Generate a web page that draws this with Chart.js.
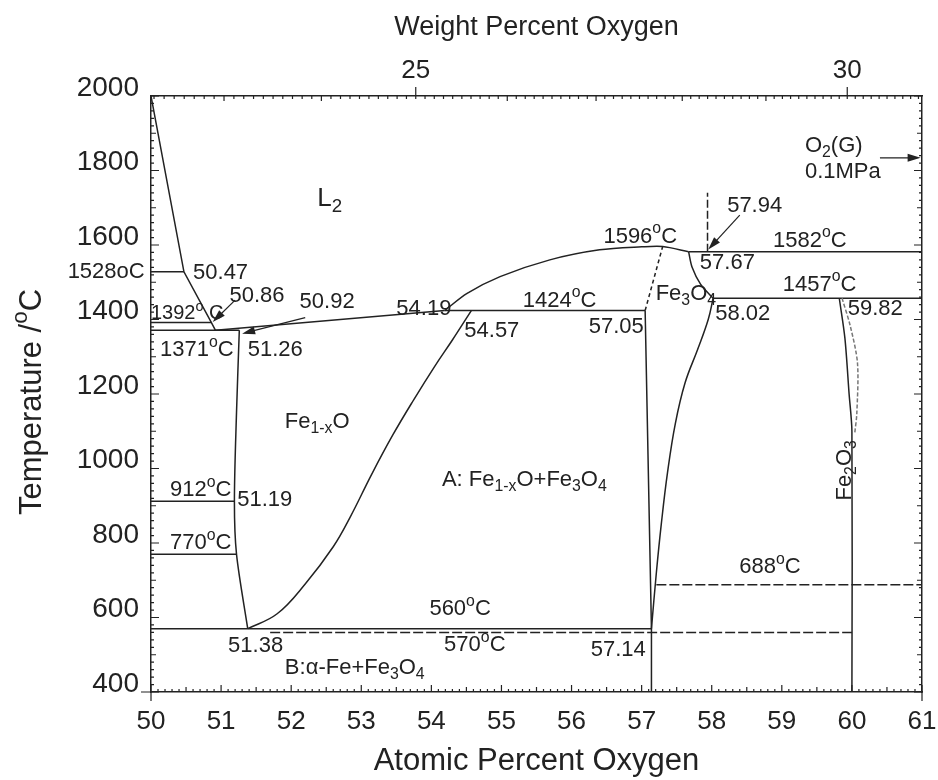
<!DOCTYPE html>
<html lang="en">
<head>
    <meta charset="UTF-8">
    <title>Fe-O phase diagram</title>
    <script src="https://cdn.jsdelivr.net/npm/chart.js"></script>
    <style>
        body { margin: 0; background: #fff; }
        .wrap { width: 938px; height: 780px; }
    </style>
</head>
<body>
    <div class="wrap"><canvas id="feo"></canvas></div>

    <script>
        // phase boundaries, [atomic % O, temperature °C]
        const liquidusFe = [[50, 2000], [50.47, 1528], [50.86, 1392], [50.92, 1371]];
        const liquidusWustite = [[50.92, 1371], [54.19, 1424]];
        const wustiteFeSide = [[51.26, 1371], [51.22, 1150], [51.19, 912], [51.22, 770], [51.38, 570]];
        const wustiteOSide = [[51.38, 570], [51.8, 610], [52.2, 690], [52.6, 790], [52.84, 869], [53.15, 985],
                              [53.45, 1090], [53.75, 1185], [54.05, 1275], [54.3, 1345], [54.57, 1424]];
        const liquidusMagnetite = [[54.19, 1424], [54.51, 1470], [54.98, 1515], [55.69, 1560], [56.4, 1587],
                                   [57.0, 1595], [57.3, 1596], [57.67, 1582]];
        const magnetiteFeSide = [[57.05, 1424], [57.14, 570], [57.14, 400]];
        const magnetiteFeSideHigh = [[57.05, 1424], [57.3, 1596]];
        const magnetiteOSideHigh = [[57.67, 1582], [57.72, 1540], [57.84, 1495], [58.02, 1457]];
        const magnetiteOSide = [[58.02, 1457], [57.95, 1400], [57.8, 1320], [57.62, 1230], [57.48, 1120],
                                [57.37, 990], [57.28, 850], [57.21, 720], [57.14, 570]];
        const hematiteSolid = [[59.82, 1457], [59.9, 1350], [59.96, 1200], [60, 1100], [60, 400]];
        const hematiteDashed = [[59.86, 1457], [59.98, 1380], [60.08, 1282], [60.07, 1148], [60.04, 1094]];
        const gasLimit = [[57.94, 1582], [57.94, 1740]];

        // isotherms: temperature, start and end composition
        const isoTemp = [1528, 1392, 1371, 912, 770, 570, 1424, 1582, 1457];
        const isoFrom = [50, 50, 50, 50, 50, 50, 54.19, 57.67, 58.02];
        const isoTo = [50.47, 50.86, 51.26, 51.19, 51.22, 57.14, 57.05, 61, 61];
        const dashTemp = [560, 688];
        const dashFrom = [51.7, 57.21];
        const dashTo = [60, 61];

        // axis ticks
        const tempTicks = [400, 600, 800, 1000, 1200, 1400, 1600, 1800, 2000];
        const wtLabels = [25, 30];

        // weight % <-> atomic % oxygen in Fe-O
        const atFromWt = w => (w / 16) / (w / 16 + (100 - w) / 55.845) * 100;
        const wtFromAt = a => 16 * a / (16 * a + 55.845 * (100 - a)) * 100;

        // text on the diagram: text, at% O, °C, align, size
        const notes = [
            ['L_{2}', 52.55, 1724, 'center', 26],
            ['1528oC', 49.91, 1528, 'right', 22],
            ['50.47', 50.6, 1524, 'left', 22],
            ['50.86', 51.12, 1462, 'left', 22],
            ['50.92', 52.12, 1448, 'left', 22],
            ['1392^{o} C', 50.0, 1416, 'left', 20],
            ['1371^{o}C', 50.13, 1317, 'left', 22],
            ['51.26', 51.38, 1317, 'left', 22],
            ['54.19', 53.5, 1429, 'left', 22],
            ['1424^{o}C', 55.83, 1451, 'center', 22],
            ['54.57', 54.47, 1370, 'left', 22],
            ['57.05', 57.03, 1379, 'right', 22],
            ['1596^{o}C', 56.98, 1622, 'center', 22],
            ['Fe_{3}O_{4}', 57.2, 1468, 'left', 22],
            ['57.67', 57.83, 1553, 'left', 22],
            ['57.94', 58.22, 1705, 'left', 22],
            ['1582^{o}C', 59.4, 1612, 'center', 22],
            ['1457^{o}C', 59.54, 1494, 'center', 22],
            ['58.02', 58.05, 1416, 'left', 22],
            ['59.82', 59.94, 1429, 'left', 22],
            ['O_{2}(G)', 59.33, 1866, 'left', 22],
            ['0.1MPa', 59.33, 1797, 'left', 22],
            ['Fe_{1-x}O', 51.91, 1124, 'left', 22],
            ['A: Fe_{1-x}O+Fe_{3}O_{4}', 54.15, 968, 'left', 22],
            ['912^{o}C', 50.27, 942, 'left', 22],
            ['51.19', 51.23, 915, 'left', 22],
            ['770^{o}C', 50.27, 800, 'left', 22],
            ['688^{o}C', 58.83, 735, 'center', 22],
            ['560^{o}C', 54.41, 623, 'center', 22],
            ['570^{o}C', 54.62, 526, 'center', 22],
            ['51.38', 51.1, 523, 'left', 22],
            ['57.14', 57.06, 513, 'right', 22],
            ['B:\u03b1-Fe+Fe_{3}O_{4}', 51.91, 464, 'left', 22]
        ];

        // leader arrows: from, to
        const arrows = [
            [[51.2, 1452], [50.88, 1393]],
            [[52.2, 1405], [51.3, 1362]],
            [[58.4, 1680], [57.95, 1588]],
            [[60.4, 1834], [60.98, 1834]]
        ];

        const FONT = "'Liberation Sans', Arial, sans-serif";
        const INK = '#222';

        const pts = arr => arr.map(([x, y]) => ({ x, y }));
        const line = (arr, extra) => Object.assign({
            data: pts(arr), showLine: true, pointRadius: 0, borderColor: INK,
            borderWidth: 1.5, tension: 0, fill: false
        }, extra || {});

        const datasets = [
            line(liquidusFe),
            line(liquidusWustite),
            line(wustiteFeSide, { tension: 0.3 }),
            line(wustiteOSide, { tension: 0.4 }),
            line(liquidusMagnetite, { tension: 0.3 }),
            line(magnetiteFeSide),
            line(magnetiteFeSideHigh, { borderDash: [4, 3] }),
            line(magnetiteOSideHigh, { tension: 0.3 }),
            line(magnetiteOSide, { tension: 0.4 }),
            line(hematiteSolid, { tension: 0.3 }),
            line(hematiteDashed, { tension: 0.3, borderDash: [4, 2], borderColor: '#777' }),
            line(gasLimit, { borderDash: [8, 3] })
        ];
        isoTemp.forEach((t, i) => datasets.push(line([[isoFrom[i], t], [isoTo[i], t]])));
        dashTemp.forEach((t, i) => datasets.push(line([[dashFrom[i], t], [dashTo[i], t]], { borderDash: [10, 3] })));

        // split "Fe_{3}O_{4}" / "1424^{o}C" into normal, sub and superscript runs
        function parseRich(s) {
            const out = [];
            let buf = '', i = 0;
            while (i < s.length) {
                const c = s[i];
                if ((c === '_' || c === '^') && s[i + 1] === '{') {
                    if (buf) { out.push({ t: buf, m: 0 }); buf = ''; }
                    const j = s.indexOf('}', i);
                    out.push({ t: s.slice(i + 2, j), m: c === '_' ? 1 : 2 });
                    i = j + 1;
                } else { buf += c; i++; }
            }
            if (buf) out.push({ t: buf, m: 0 });
            return out;
        }

        function drawRich(ctx, s, px, py, size, align, angle) {
            const segs = parseRich(s);
            let w = 0;
            segs.forEach(g => {
                ctx.font = (g.m ? size * 0.72 : size) + 'px ' + FONT;
                g.w = ctx.measureText(g.t).width;
                w += g.w;
            });
            ctx.save();
            ctx.translate(px, py);
            if (angle) ctx.rotate(angle);
            let cx = align === 'left' ? 0 : align === 'right' ? -w : -w / 2;
            ctx.textBaseline = 'middle';
            ctx.textAlign = 'left';
            ctx.fillStyle = INK;
            segs.forEach(g => {
                ctx.font = (g.m ? size * 0.72 : size) + 'px ' + FONT;
                const dy = g.m === 1 ? size * 0.3 : g.m === 2 ? -size * 0.35 : 0;
                ctx.fillText(g.t, cx, dy);
                cx += g.w;
            });
            ctx.restore();
        }

        function arrow(ctx, x0, y0, x1, y1) {
            const ang = Math.atan2(y1 - y0, x1 - x0);
            ctx.beginPath();
            ctx.moveTo(x0, y0);
            ctx.lineTo(x1 - 8 * Math.cos(ang), y1 - 8 * Math.sin(ang));
            ctx.stroke();
            ctx.beginPath();
            ctx.moveTo(x1, y1);
            ctx.lineTo(x1 - 13 * Math.cos(ang) + 4 * Math.sin(ang), y1 - 13 * Math.sin(ang) - 4 * Math.cos(ang));
            ctx.lineTo(x1 - 13 * Math.cos(ang) - 4 * Math.sin(ang), y1 - 13 * Math.sin(ang) + 4 * Math.cos(ang));
            ctx.closePath();
            ctx.fill();
        }

        // inward tick marks, arrows, labels and the temperature title
        const phaseNotes = {
            id: 'phaseNotes',
            afterDraw(chart) {
                const { ctx, chartArea: a, scales } = chart;
                const x = scales.x, y = scales.y;
                ctx.save();
                ctx.strokeStyle = INK;
                ctx.fillStyle = INK;
                ctx.lineWidth = 1.2;

                ctx.beginPath();
                for (let i = 0; i <= 110; i++) {
                    const px = x.getPixelForValue(50 + i / 10);
                    const len = i % 10 === 0 ? 7 : i % 5 === 0 ? 5 : 3;
                    ctx.moveTo(px, a.bottom); ctx.lineTo(px, a.bottom - len);
                }
                for (let w = 223; w <= 309; w++) {
                    const px = x.getPixelForValue(atFromWt(w / 10));
                    if (px < a.left || px > a.right) continue;
                    if (w % 50 === 0) { ctx.moveTo(px, a.top + 3); ctx.lineTo(px, a.top - 9); continue; }
                    const len = w % 10 === 0 ? 5 : 3;
                    ctx.moveTo(px, a.top); ctx.lineTo(px, a.top + len);
                }
                for (let t = 400; t <= 2000; t += 20) {
                    const py = y.getPixelForValue(t);
                    const len = t % 200 === 0 ? 8 : t % 100 === 0 ? 5 : 3;
                    ctx.moveTo(a.left, py); ctx.lineTo(a.left + len, py);
                    ctx.moveTo(a.right, py); ctx.lineTo(a.right - len, py);
                }
                ctx.moveTo(a.left, a.bottom); ctx.lineTo(a.left, a.bottom + 9);
                ctx.moveTo(a.right, a.bottom); ctx.lineTo(a.right, a.bottom + 9);
                ctx.moveTo(a.left, a.bottom); ctx.lineTo(a.left - 10, a.bottom);
                ctx.stroke();

                ctx.lineWidth = 1.2;
                arrows.forEach(([p, q]) => arrow(ctx,
                    x.getPixelForValue(p[0]), y.getPixelForValue(p[1]),
                    x.getPixelForValue(q[0]), y.getPixelForValue(q[1])));

                notes.forEach(([s, xv, yv, al, sz]) =>
                    drawRich(ctx, s, x.getPixelForValue(xv), y.getPixelForValue(yv), sz, al));
                drawRich(ctx, 'Fe_{2}O_{3}', x.getPixelForValue(59.9), y.getPixelForValue(995), 22, 'center', -Math.PI / 2);

                drawRich(ctx, 'Temperature /^{o}C', 32, (a.top + a.bottom) / 2 + 8, 31, 'center', -Math.PI / 2);
                ctx.restore();
            }
        };

        const axisBorder = { display: true, color: INK, width: 1.5 };

        new Chart(document.getElementById('feo'), {
            type: 'scatter',
            data: { datasets },
            options: {
                responsive: true,
                maintainAspectRatio: false,
                animation: false,
                layout: { padding: 0 },
                plugins: { legend: { display: false }, tooltip: { enabled: false } },
                scales: {
                    x: {
                        type: 'linear', position: 'bottom', min: 50, max: 61,
                        grid: { display: false, tickLength: 14 }, border: axisBorder,
                        ticks: { stepSize: 1, padding: 0, color: INK, font: { size: 26, family: FONT }, maxRotation: 0, autoSkip: false },
                        title: { display: true, text: 'Atomic Percent Oxygen', color: INK, font: { size: 31, family: FONT }, padding: 0 },
                        afterFit: s => { s.height = 88; }
                    },
                    x2: {
                        type: 'linear', position: 'top', min: 50, max: 61,
                        grid: { display: false }, border: axisBorder,
                        afterBuildTicks: s => { s.ticks = wtLabels.map(w => ({ value: atFromWt(w) })); },
                        ticks: { padding: 2, color: INK, font: { size: 26, family: FONT }, maxRotation: 0, autoSkip: false,
                                 callback: v => Math.round(wtFromAt(v)) },
                        title: { display: true, text: 'Weight Percent Oxygen', color: INK, font: { size: 27, family: FONT }, padding: { top: 11, bottom: 0 } },
                        afterFit: s => { s.height = 96; }
                    },
                    y: {
                        type: 'linear', position: 'left', min: 400, max: 2000,
                        grid: { display: false }, border: axisBorder,
                        afterBuildTicks: s => { s.ticks = tempTicks.map(v => ({ value: v })); },
                        ticks: { padding: 4, labelOffset: -8, color: INK, font: { size: 28, family: FONT }, callback: v => String(v) },
                        afterFit: s => { s.width = 151; }
                    },
                    y2: {
                        type: 'linear', position: 'right', min: 400, max: 2000,
                        grid: { display: false }, border: axisBorder,
                        ticks: { display: false },
                        afterFit: s => { s.width = 16; }
                    }
                }
            },
            plugins: [phaseNotes]
        });
    </script>
</body>
</html>
